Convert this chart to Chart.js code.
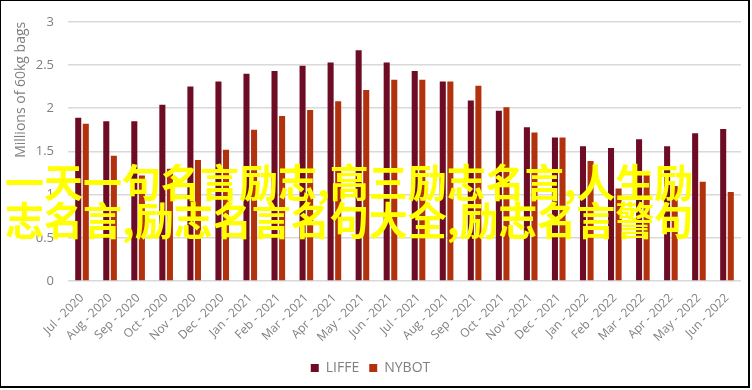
<!DOCTYPE html>
<html>
<head>
<meta charset="utf-8">
<script src="https://cdn.jsdelivr.net/npm/chart.js@4"></script>
<style>
  html, body { margin: 0; padding: 0; background: #fff; }
  #wrap { position: relative; width: 752px; height: 390px; overflow: hidden; }
  #wrap canvas { position: absolute; left: 0; top: 0; }
  #frame { position: absolute; left: -1px; top: -1px; width: 751px; height: 389px; box-sizing: border-box; border: 2px solid #000; pointer-events: none; }
  #overlay { position: absolute; left: 5px; top: 161px; font-family: "Noto Sans CJK SC", sans-serif; font-size: 39px; line-height: 38px; color: #ffff00; font-weight: 700; white-space: nowrap; pointer-events: none; }
</style>
</head>
<body>
<div id="wrap">
  <canvas id="c" width="752" height="390"></canvas>
  <div id="overlay"><div>一天一句名言励志,高三励志名言,人生励</div><div>志名言,励志名言名句大全,励志名言警句</div></div>
  <div id="frame"></div>
</div>
<script>
const months = ['Jul - 2020','Aug - 2020','Sep - 2020','Oct - 2020','Nov - 2020','Dec - 2020',
  'Jan - 2021','Feb - 2021','Mar - 2021','Apr - 2021','May - 2021','Jun - 2021',
  'Jul - 2021','Aug - 2021','Sep - 2021','Oct - 2021','Nov - 2021','Dec - 2021',
  'Jan - 2022','Feb - 2022','Mar - 2022','Apr - 2022','May - 2022','Jun - 2022'];
const liffe = [1.89,1.85,1.85,2.04,2.25,2.31,2.40,2.43,2.49,2.53,2.67,2.53,2.43,2.31,2.09,1.97,1.78,1.66,1.56,1.54,1.64,1.56,1.71,1.76];
const nybot = [1.82,1.45,1.22,1.30,1.40,1.52,1.75,1.91,1.98,2.08,2.21,2.33,2.33,2.31,2.26,2.01,1.72,1.66,1.39,1.07,1.23,1.10,1.15,1.03];
const yTicks = [0, 0.5, 1, 1.5, 2, 2.5, 3];
const seriesNames = ['LIFFE', 'NYBOT'];
const yTitle = 'Millions of 60kg bags';

const gray = '#7f7f7f';
new Chart(document.getElementById('c'), {
  type: 'bar',
  data: {
    labels: months,
    datasets: [
      { label: seriesNames[0], data: liffe, backgroundColor: '#6e0c25', categoryPercentage: 0.54, barPercentage: 0.8 },
      { label: seriesNames[1], data: nybot, backgroundColor: '#b3320e', categoryPercentage: 0.54, barPercentage: 0.8 }
    ]
  },
  options: {
    responsive: false,
    animation: false,
    devicePixelRatio: 1,
    layout: { padding: { left: 0, right: 11, top: 21, bottom: 5 } },
    plugins: {
      legend: {
        position: 'bottom',
        labels: {
          usePointStyle: true, pointStyle: 'rect', boxWidth: 8, boxHeight: 8,
          color: gray, font: { family: 'Open Sans', size: 14 }, padding: 10
        }
      },
      tooltip: { enabled: false }
    },
    scales: {
      x: {
        grid: { display: false },
        border: { display: false },
        ticks: { color: gray, font: { family: 'Open Sans', size: 12 }, maxRotation: 45, minRotation: 45, padding: 2, autoSkip: false },
        afterFit: (s) => { s.height = 70; }
      },
      y: {
        min: 0, max: 3,
        afterBuildTicks: (s) => { s.ticks = yTicks.map(v => ({ value: v })); },
        grid: { color: '#d9d9d9', lineWidth: 1.5, drawTicks: false },
        border: { display: false },
        ticks: { color: gray, font: { family: 'Open Sans', size: 13 }, padding: 14,
                 callback: (v) => String(v) },
        title: { display: true, text: yTitle, align: 'end', color: gray, font: { family: 'Open Sans', size: 14 }, padding: { top: 13, bottom: 0 } },
        afterFit: (s) => { s.width = 68; }
      }
    }
  }
});
</script>
</body>
</html>
